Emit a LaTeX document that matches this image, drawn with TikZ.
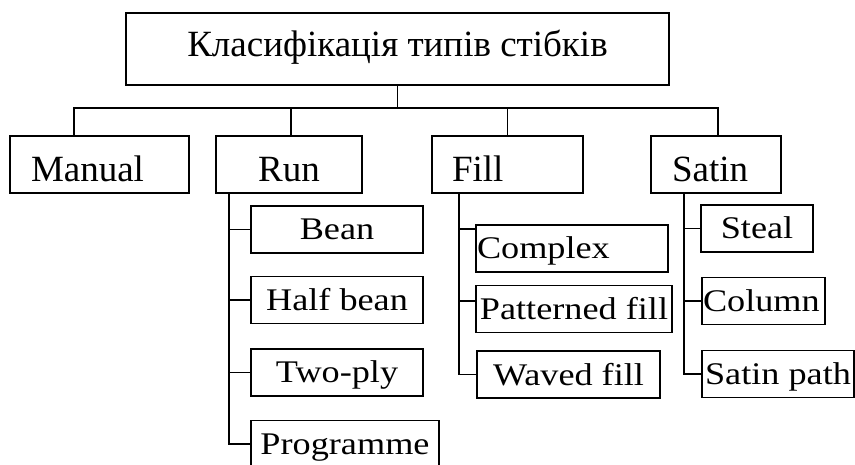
\documentclass[tikz,border=0pt]{standalone}
\usepackage{fontspec}
\setmainfont{Liberation Serif}
\newfontfamily\narrowserif[FakeStretch=1.15]{Liberation Serif}

\begin{document}
\begin{tikzpicture}[x=1pt, y=-1pt, line width=1.7pt,
  headbox/.style={draw, inner xsep=0pt, inner ysep=0pt, minimum width=543pt,
    text height=44pt, text depth=28pt, font=\fontsize{37}{44}\selectfont},
  typebox/.style={draw, inner ysep=0pt, text height=46pt, text depth=11pt,
    font=\fontsize{37}{44}\selectfont},
  subbox/.style={draw, inner ysep=0pt, inner xsep=1pt, text height=34pt,
    text depth=13pt, font=\narrowserif\fontsize{31.5}{37}\selectfont}]
\useasboundingbox (0,0) rectangle (855,465);
\clip (0,0) rectangle (855,465);

% top
\node[headbox] (title) at (397.5,49) {Класифікація типів стібків};

% types
\node[typebox, inner xsep=21pt, text width=137pt, align=left] (manual) at (99.5,164.5) {Manual};
\node[typebox, minimum width=146pt] (run) at (289,164.5) {Run};
\node[typebox, inner xsep=20pt, text width=111pt, align=left] (fill) at (507.5,164.5) {Fill};
\node[typebox, inner xsep=21pt, text width=88pt, align=left] (satin) at (716,164.5) {Satin};

% subtypes
\node[subbox, minimum width=172pt] (bean) at (337,229.5) {Bean};
\node[subbox, minimum width=172pt] (halfbean) at (337,300) {Half bean};
\node[subbox, minimum width=172pt] (twoply) at (337,372.5) {Two-ply};
\node[subbox, minimum width=188pt] (programme) at (345,444) {Programme};
\node[subbox, text width=190pt, align=left] (complex) at (572,248.5) {Complex};
\node[subbox, minimum width=196pt] (patterned) at (574,309) {Patterned fill};
\node[subbox, minimum width=183pt] (waved) at (568.5,374.5) {Waved fill};
\node[subbox, minimum width=112pt] (steal) at (757,228.5) {Steal};
\node[subbox, text width=121pt, align=left] (column) at (763.5,301) {Column};
\node[subbox, minimum width=152pt] (satinpath) at (778,374) {Satin path};

% bus
\coordinate (bus) at (397.5,108);
\draw (title.south) -- (bus);
\draw ([xshift=-25.5pt]manual.north) |- (bus) -| ([xshift=2pt]satin.north);
\draw ([xshift=2pt]run.north) -- ([xshift=2pt]run.north |- bus);
\draw (fill.north) -- (fill.north |- bus);

% trunks
\foreach \sub in {bean,halfbean,twoply,programme}
  \draw ([xshift=14pt]run.south west) |- (\sub.west);
\draw ([xshift=28pt]fill.south west) |- ([yshift=19.5pt]complex.west);
\draw ([xshift=28pt]fill.south west) |- ([yshift=8pt]patterned.west);
\draw ([xshift=28pt]fill.south west) |- (waved.west);
\foreach \sub in {steal,column,satinpath}
  \draw ([xshift=34pt]satin.south west) |- (\sub.west);
\end{tikzpicture}
\end{document}
